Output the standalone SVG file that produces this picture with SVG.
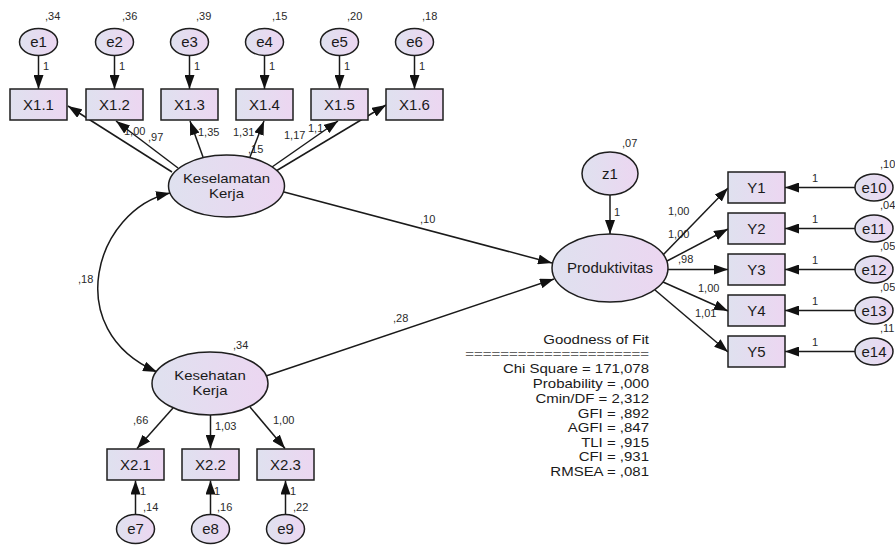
<svg xmlns="http://www.w3.org/2000/svg" width="895" height="545" viewBox="0 0 895 545">
<defs>
<linearGradient id="fillg" x1="0" y1="0" x2="1" y2="0">
<stop offset="0" stop-color="#dfe1ef"/>
<stop offset="1" stop-color="#ecd6f1"/>
</linearGradient>
<marker id="ah" viewBox="0 0 14 10" refX="14" refY="5" markerWidth="14" markerHeight="10" markerUnits="userSpaceOnUse" orient="auto-start-reverse">
<path d="M0,0 L14,5 L0,10 z" fill="#111"/>
</marker>
<style>
.box{fill:url(#fillg);stroke:#1e1e1e;stroke-width:1.5}
.ell{fill:url(#fillg);stroke:#1e1e1e;stroke-width:1.5}
.lbl{font-family:"Liberation Sans",Arial,sans-serif;font-size:15px;fill:#1a1a1a;text-anchor:middle}
.lbl2{font-family:"Liberation Sans",Arial,sans-serif;font-size:13px;fill:#1a1a1a;text-anchor:middle}
.sm{font-family:"Liberation Sans",Arial,sans-serif;font-size:11px;fill:#2a2a2a}
.gof{font-family:"Liberation Sans",Arial,sans-serif;font-size:12.6px;fill:#1a1a1a;text-anchor:end}
.eq{font-family:"Liberation Sans",Arial,sans-serif;font-size:12.6px;fill:#666;text-anchor:end}
.ln{fill:none;stroke:#1a1a1a;stroke-width:1.5;marker-end:url(#ah)}
</style>
</defs>
<rect x="0" y="0" width="895" height="545" fill="#ffffff"/>

<g id="labels">
<text class="sm" x="45" y="20">,34</text>
<text class="sm" x="122" y="20">,36</text>
<text class="sm" x="196" y="20">,39</text>
<text class="sm" x="272" y="20">,15</text>
<text class="sm" x="347" y="20">,20</text>
<text class="sm" x="422" y="20">,18</text>
<text class="sm" x="43" y="70">1</text>
<text class="sm" x="119" y="70">1</text>
<text class="sm" x="194" y="70">1</text>
<text class="sm" x="269" y="70">1</text>
<text class="sm" x="344" y="70">1</text>
<text class="sm" x="419" y="70">1</text>
<text class="sm" x="124" y="135">1,00</text>
<text class="sm" x="148" y="141">,97</text>
<text class="sm" x="198" y="136">1,35</text>
<text class="sm" x="233" y="136">1,31</text>
<text class="sm" x="248" y="153">,15</text>
<text class="sm" x="284" y="139">1,17</text>
<text class="sm" x="308" y="132">1,1</text>
<text class="sm" x="78" y="283">,18</text>
<text class="sm" x="233" y="349">,34</text>
<text class="sm" x="133" y="424">,66</text>
<text class="sm" x="215" y="430">1,03</text>
<text class="sm" x="273" y="424">1,00</text>
<text class="sm" x="140" y="495">1</text>
<text class="sm" x="214" y="495">1</text>
<text class="sm" x="290" y="495">1</text>
<text class="sm" x="143" y="511">,14</text>
<text class="sm" x="217" y="511">,16</text>
<text class="sm" x="293" y="511">,22</text>
<text class="sm" x="420" y="223">,10</text>
<text class="sm" x="393" y="322">,28</text>
<text class="sm" x="622" y="147">,07</text>
<text class="sm" x="614" y="216">1</text>
<text class="sm" x="668" y="215">1,00</text>
<text class="sm" x="668" y="238">1,00</text>
<text class="sm" x="678" y="263">,98</text>
<text class="sm" x="698" y="292">1,00</text>
<text class="sm" x="695" y="317">1,01</text>
<text class="sm" x="812" y="182">1</text>
<text class="sm" x="812" y="223">1</text>
<text class="sm" x="812" y="264">1</text>
<text class="sm" x="812" y="305">1</text>
<text class="sm" x="812" y="346">1</text>
<text class="sm" x="880" y="168">,10</text>
<text class="sm" x="880" y="209">,04</text>
<text class="sm" x="880" y="250">,05</text>
<text class="sm" x="880" y="291">,05</text>
<text class="sm" x="880" y="332">,11</text>
</g>

<g id="connectors">
<line class="ln" x1="38.5" y1="55.5" x2="38.5" y2="89"/>
<line class="ln" x1="114.5" y1="55.5" x2="114.5" y2="89"/>
<line class="ln" x1="189.5" y1="55.5" x2="189.5" y2="89"/>
<line class="ln" x1="264.5" y1="55.5" x2="264.5" y2="89"/>
<line class="ln" x1="339.5" y1="55.5" x2="339.5" y2="89"/>
<line class="ln" x1="414.5" y1="55.5" x2="414.5" y2="89"/>
<line class="ln" x1="172" y1="172" x2="68" y2="106"/>
<line class="ln" x1="178" y1="168" x2="116" y2="121"/>
<line class="ln" x1="203" y1="157" x2="190" y2="121"/>
<line class="ln" x1="250" y1="157" x2="264" y2="121"/>
<line class="ln" x1="272" y1="167" x2="338" y2="121"/>
<line class="ln" x1="276" y1="171" x2="386" y2="105"/>
<path class="ln" d="M170,193 C95,210 60,330 157,372" style="marker-start:url(#ah)"/>
<line class="ln" x1="173" y1="408" x2="137" y2="448.5"/>
<line class="ln" x1="210.5" y1="415" x2="210.5" y2="448.5"/>
<line class="ln" x1="250" y1="407" x2="285" y2="448.5"/>
<line class="ln" x1="135.5" y1="514.5" x2="135.5" y2="480.5"/>
<line class="ln" x1="210.5" y1="514.5" x2="210.5" y2="480.5"/>
<line class="ln" x1="285.5" y1="514.5" x2="285.5" y2="480.5"/>
<line class="ln" x1="284" y1="192" x2="552" y2="263"/>
<line class="ln" x1="266" y1="376" x2="554" y2="279"/>
<line class="ln" x1="610" y1="195" x2="610" y2="234"/>
<line class="ln" x1="662" y1="256" x2="728" y2="188"/>
<line class="ln" x1="667" y1="261" x2="728" y2="229"/>
<line class="ln" x1="668" y1="269.5" x2="728" y2="269.5"/>
<line class="ln" x1="663" y1="282" x2="728" y2="311"/>
<line class="ln" x1="655" y1="290" x2="728" y2="352"/>
<line class="ln" x1="855" y1="187.5" x2="785" y2="187.5"/>
<line class="ln" x1="855" y1="228.5" x2="785" y2="228.5"/>
<line class="ln" x1="855" y1="269.5" x2="785" y2="269.5"/>
<line class="ln" x1="855" y1="310.5" x2="785" y2="310.5"/>
<line class="ln" x1="855" y1="351.5" x2="785" y2="351.5"/>
</g>

<g id="e1"><ellipse class="ell" cx="38.5" cy="42" rx="19" ry="13.5"/><text class="lbl" x="38.5" y="47">e1</text></g>
<g id="e2"><ellipse class="ell" cx="114.5" cy="42" rx="19" ry="13.5"/><text class="lbl" x="114.5" y="47">e2</text></g>
<g id="e3"><ellipse class="ell" cx="189.5" cy="42" rx="19" ry="13.5"/><text class="lbl" x="189.5" y="47">e3</text></g>
<g id="e4"><ellipse class="ell" cx="264.5" cy="42" rx="19" ry="13.5"/><text class="lbl" x="264.5" y="47">e4</text></g>
<g id="e5"><ellipse class="ell" cx="339.5" cy="42" rx="19" ry="13.5"/><text class="lbl" x="339.5" y="47">e5</text></g>
<g id="e6"><ellipse class="ell" cx="414.5" cy="42" rx="19" ry="13.5"/><text class="lbl" x="414.5" y="47">e6</text></g>

<g id="X1.1"><rect class="box" x="10" y="89" width="57" height="31"/><text class="lbl" x="38.5" y="110">X1.1</text></g>
<g id="X1.2"><rect class="box" x="86" y="89" width="57" height="31"/><text class="lbl" x="114.5" y="110">X1.2</text></g>
<g id="X1.3"><rect class="box" x="161" y="89" width="57" height="31"/><text class="lbl" x="189.5" y="110">X1.3</text></g>
<g id="X1.4"><rect class="box" x="236" y="89" width="57" height="31"/><text class="lbl" x="264.5" y="110">X1.4</text></g>
<g id="X1.5"><rect class="box" x="311" y="89" width="57" height="31"/><text class="lbl" x="339.5" y="110">X1.5</text></g>
<g id="X1.6"><rect class="box" x="386" y="89" width="57" height="31"/><text class="lbl" x="414.5" y="110">X1.6</text></g>

<g id="keselamatan"><ellipse class="ell" cx="226.5" cy="186" rx="58" ry="31"/>
<g transform="translate(226.5,0) scale(1.15,1) translate(-226.5,0)"><text class="lbl2" x="226.5" y="183">Keselamatan</text><text class="lbl2" x="226.5" y="198">Kerja</text></g></g>
<g id="kesehatan"><ellipse class="ell" cx="210" cy="383.5" rx="58" ry="31.5"/>
<g transform="translate(210,0) scale(1.15,1) translate(-210,0)"><text class="lbl2" x="210" y="380.5">Kesehatan</text><text class="lbl2" x="210" y="395.5">Kerja</text></g></g>

<g id="X2.1"><rect class="box" x="107" y="449" width="57" height="31"/><text class="lbl" x="135.5" y="470">X2.1</text></g>
<g id="X2.2"><rect class="box" x="182" y="449" width="57" height="31"/><text class="lbl" x="210.5" y="470">X2.2</text></g>
<g id="X2.3"><rect class="box" x="257" y="449" width="57" height="31"/><text class="lbl" x="285.5" y="470">X2.3</text></g>

<g id="e7"><ellipse class="ell" cx="135.5" cy="529" rx="19" ry="14.5"/><text class="lbl" x="135.5" y="534">e7</text></g>
<g id="e8"><ellipse class="ell" cx="210.5" cy="529" rx="19" ry="14.5"/><text class="lbl" x="210.5" y="534">e8</text></g>
<g id="e9"><ellipse class="ell" cx="285.5" cy="529" rx="19" ry="14.5"/><text class="lbl" x="285.5" y="534">e9</text></g>

<g id="z1"><ellipse class="ell" cx="610" cy="173.5" rx="28" ry="21.5"/><text class="lbl" x="610" y="179">z1</text></g>
<g id="produktivitas"><ellipse class="ell" cx="610" cy="268" rx="58" ry="34"/><text class="lbl" x="610" y="273">Produktivitas</text></g>

<g id="Y1"><rect class="box" x="728" y="172" width="57" height="31"/><text class="lbl" x="756.5" y="193">Y1</text></g>
<g id="Y2"><rect class="box" x="728" y="213" width="57" height="31"/><text class="lbl" x="756.5" y="234">Y2</text></g>
<g id="Y3"><rect class="box" x="728" y="254" width="57" height="31"/><text class="lbl" x="756.5" y="275">Y3</text></g>
<g id="Y4"><rect class="box" x="728" y="295" width="57" height="31"/><text class="lbl" x="756.5" y="316">Y4</text></g>
<g id="Y5"><rect class="box" x="728" y="336" width="57" height="31"/><text class="lbl" x="756.5" y="357">Y5</text></g>

<g id="e10"><ellipse class="ell" cx="874" cy="187.5" rx="19" ry="13.5"/><text class="lbl" x="874" y="193">e10</text></g>
<g id="e11"><ellipse class="ell" cx="874" cy="228.5" rx="19" ry="13.5"/><text class="lbl" x="874" y="234">e11</text></g>
<g id="e12"><ellipse class="ell" cx="874" cy="269.5" rx="19" ry="13.5"/><text class="lbl" x="874" y="275">e12</text></g>
<g id="e13"><ellipse class="ell" cx="874" cy="310.5" rx="19" ry="13.5"/><text class="lbl" x="874" y="316">e13</text></g>
<g id="e14"><ellipse class="ell" cx="874" cy="351.5" rx="19" ry="13.5"/><text class="lbl" x="874" y="357">e14</text></g>

<g id="goodness-of-fit" transform="translate(649,0) scale(1.19,1) translate(-649,0)">
<text class="gof" x="649" y="344">Goodness of Fit</text>
<text class="eq" x="649" y="358">=====================</text>
<text class="gof" x="649" y="373">Chi Square = 171,078</text>
<text class="gof" x="649" y="388">Probability = ,000</text>
<text class="gof" x="649" y="403">Cmin/DF = 2,312</text>
<text class="gof" x="649" y="418">GFI = ,892</text>
<text class="gof" x="649" y="432">AGFI = ,847</text>
<text class="gof" x="649" y="447">TLI = ,915</text>
<text class="gof" x="649" y="461">CFI = ,931</text>
<text class="gof" x="649" y="476">RMSEA = ,081</text>
</g>
</svg>
